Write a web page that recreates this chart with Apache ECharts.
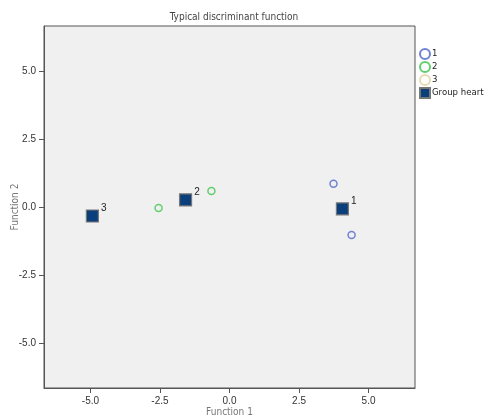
<!DOCTYPE html>
<html>
<head>
<meta charset="utf-8">
<script src="https://cdn.jsdelivr.net/npm/echarts@6/dist/echarts.min.js"></script>
<style>
  html, body { margin: 0; padding: 0; background: #fff; }
  #chart { width: 487px; height: 418px; }
</style>
</head>
<body>
<div id="chart"></div>
<script>
// group cases (discriminant scores)
const group1X = [3.74, 4.39];
const group1Y = [0.85, -1.03];
const group2X = [-2.55, -0.65];
const group2Y = [-0.04, 0.59];
const group3X = [];
const group3Y = [];
// group centroids
const centroidX = [4.06, -1.58, -4.93];
const centroidY = [-0.07, 0.26, -0.33];
const centroidLabels = ["1", "2", "3"];
const tickValues = [-5, -2.5, 0, 2.5, 5];

const font = "'DejaVu Sans Condensed', 'Liberation Sans Narrow', 'Liberation Sans', sans-serif";
const pairs = (xs, ys) => xs.map((x, i) => [x, ys[i]]);

const hollow = (name, color, xs, ys) => ({
  name: name,
  type: "scatter",
  symbol: "circle",
  symbolSize: 7,
  itemStyle: { color: "rgba(0,0,0,0)", borderColor: color, borderWidth: 1.5, opacity: 1 },
  data: pairs(xs, ys)
});

const axisCommon = {
  type: "value",
  splitLine: { show: false },
  axisLine: { show: true, onZero: false, lineStyle: { color: "#555", width: 1 } },
  axisTick: { show: true, inside: false, length: 5, customValues: tickValues, lineStyle: { color: "#555" } },
  axisLabel: {
    customValues: tickValues,
    color: "#333",
    fontSize: 10,
    fontFamily: "'Liberation Sans', Arial, sans-serif",
    formatter: v => v.toFixed(1)
  },
  nameLocation: "middle",
  nameMoveOverlap: false,
  nameTextStyle: { color: "#777", fontSize: 10, fontFamily: font }
};

const chart = echarts.init(document.getElementById("chart"));
chart.setOption({
  animation: false,
  backgroundColor: "#fff",
  title: {
    text: "Typical discriminant function",
    left: 229,
    textAlign: "center",
    top: 7,
    textStyle: { color: "#444", fontSize: 10, fontWeight: "normal", fontFamily: font }
  },
  legend: {
    orient: "vertical",
    left: 419,
    top: 48,
    padding: 0,
    itemWidth: 10,
    itemHeight: 10,
    itemGap: 1,
    textStyle: {
      color: "#222",
      fontSize: 9.5,
      lineHeight: 11,
      fontFamily: font,
      padding: [0, 0, 0, -3],
      overflow: "none"
    },
    data: ["1", "2", "3", "Group heart"]
  },
  grid: {
    left: 44,
    top: 26,
    width: 371,
    height: 362,
    outerBoundsMode: "none",
    containLabel: false,
    show: true,
    backgroundColor: "#f0f0f0",
    borderColor: "#555",
    borderWidth: 1
  },
  xAxis: Object.assign({}, axisCommon, {
    min: -6.67,
    max: 6.67,
    name: "Function 1",
    nameGap: 19
  }),
  yAxis: Object.assign({}, axisCommon, {
    min: -6.65,
    max: 6.65,
    name: "Function 2",
    nameGap: 24
  }),
  series: [
    hollow("1", "#6f83d2", group1X, group1Y),
    hollow("2", "#62cf6f", group2X, group2Y),
    hollow("3", "#e6dcb4", group3X, group3Y),
    {
      name: "Group heart",
      type: "scatter",
      symbol: "rect",
      symbolSize: 12,
      itemStyle: { color: "#0b3f7c", borderColor: "#777", borderWidth: 1.2, opacity: 1 },
      label: {
        show: true,
        position: "right",
        distance: 2,
        offset: [0, -8],
        color: "#222",
        fontSize: 10,
        fontFamily: "'Liberation Sans', Arial, sans-serif",
        formatter: p => centroidLabels[p.dataIndex]
      },
      data: pairs(centroidX, centroidY)
    }
  ]
});
</script>
</body>
</html>
